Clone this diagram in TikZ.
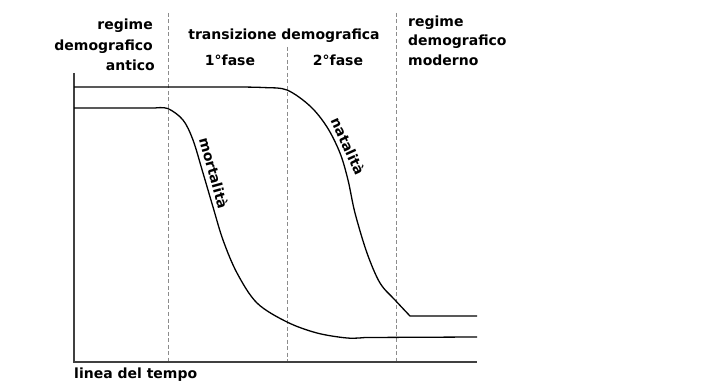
\documentclass[tikz,border=0pt]{standalone}
\usepackage{fontspec}
\setmainfont{DejaVu Sans}
\begin{document}
\begin{tikzpicture}[x=1pt,y=-1pt,
  lbl/.style={font=\bfseries\fontsize{14}{18}\selectfont, inner sep=0pt},
  axisline/.style={draw=black!75, line width=1.5pt},
  phase/.style={draw=black!45, line width=0.9pt, dash pattern=on 4pt off 2.5pt},
  curveline/.style={draw=black, line width=1.3pt, line join=round}]
\useasboundingbox (0,0) rectangle (707,382);
% phase separators
\draw[phase] (168,13) -- (168,362);
\draw[phase] (287,47) -- (287,362);
\draw[phase] (396,13) -- (396,362);
% axes
\draw[axisline] (74,73) -- (74,362) -- (477,362);
% natalita curve
\draw[curveline] (74,87) -- (240,87)
  plot[smooth, tension=0.55] coordinates {(240,87) (265,87.6) (287,90) (310,106) (327,127) (340,153) (348,180) (355,213) (367,253) (380,283) (395,300) (410,316)}
  -- (477,316);
% mortalita curve
\draw[curveline] (74,108) -- (155,108)
  plot[smooth, tension=0.55] coordinates {(155,108) (168,108.6) (183,120) (193,140) (203,173) (213,207) (223,240) (237,273) (257,303) (287,322) (317,333) (347,338) (365,337.5)}
  -- (477,337);
% headings
\node[lbl, anchor=base east] (r1) at (153,30) {regime};
\node[lbl, anchor=base east] (r2) at (153,50.5) {demografico};
\node[lbl, anchor=base east] (r3) at (155,71) {antico};
\node[lbl, anchor=base] (tr) at (284,40) {transizione demografica};
\node[lbl, anchor=base] (f1) at (230,66) {1°fase};
\node[lbl, anchor=base] (f2) at (338,66) {2°fase};
\node[lbl, anchor=base west] (m1) at (408,26.5) {regime};
\node[lbl, anchor=base west] (m2) at (408,46) {demografico};
\node[lbl, anchor=base west] (m3) at (408,65.5) {moderno};
\node[lbl, anchor=base west] (lt) at (74,378) {linea del tempo};
% curve labels
\node[lbl, rotate=-74.5] (mort) at (214,173) {mortalità};
\node[lbl, rotate=-65.5] (nat) at (348,146) {natalità};
\end{tikzpicture}
\end{document}
